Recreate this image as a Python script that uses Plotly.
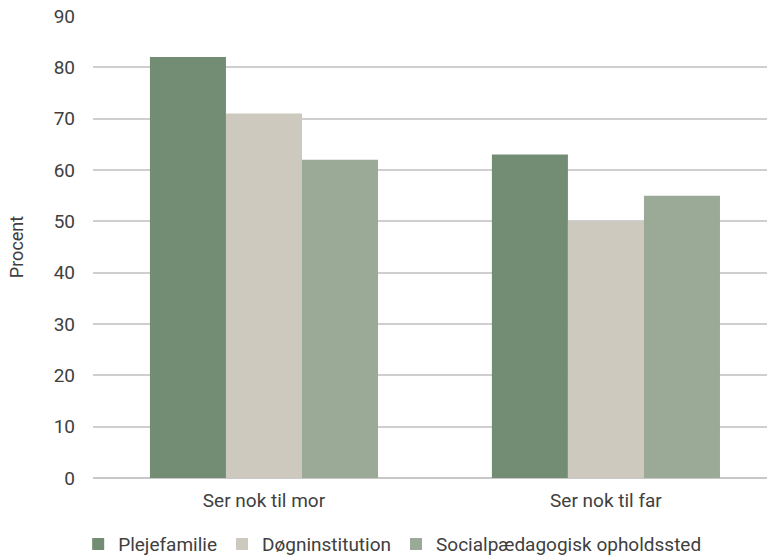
import plotly.graph_objects as go

categories = ["Ser nok til mor", "Ser nok til far"]
series_names = ["Plejefamilie", "Døgninstitution", "Socialpædagogisk opholdssted"]
plejefamilie = [82, 63]
doegninstitution = [71, 50]
socialpaed = [62, 55]
y_ticks = [0, 10, 20, 30, 40, 50, 60, 70, 80, 90]

colors = ["#728d74", "#cdc9bf", "#9aaa96"]
values = [plejefamilie, doegninstitution, socialpaed]

FONT = "Roboto, sans-serif"
TXT = "#404040"

fig = go.Figure()
for name, vals, col in zip(series_names, values, colors):
    fig.add_trace(go.Bar(name=name, x=categories, y=vals, marker=dict(color=col, line=dict(width=0))))

fig.update_layout(
    width=767, height=556,
    margin=dict(l=93, r=0, t=16, b=78, autoexpand=False),
    barmode="group", bargap=0.333, bargroupgap=0,
    plot_bgcolor="white", paper_bgcolor="white",
    font=dict(family=FONT, size=19, color=TXT),
    showlegend=True,
    legend=dict(orientation="h", x=-0.022, xanchor="left", y=-0.143, yanchor="middle",
                font=dict(size=19, color=TXT), itemwidth=30, traceorder="normal",
                bgcolor="rgba(0,0,0,0)"),
    yaxis=dict(range=[0, 90], tickvals=y_ticks, showgrid=True, gridcolor="#cfcfcf", gridwidth=1.5,
               zeroline=True, zerolinecolor="#c8c8c8", zerolinewidth=1.8, ticks="", ticklen=0,
               ticklabelstandoff=17, automargin=False,
               tickfont=dict(size=19), title=dict(text="Procent", font=dict(size=18), standoff=25)),
    xaxis=dict(range=[-0.5, 1.471], showgrid=False, ticks="", tickfont=dict(size=19), showline=False,
               ticklabelstandoff=9, automargin=False),
)
fig.write_html("out.html")
